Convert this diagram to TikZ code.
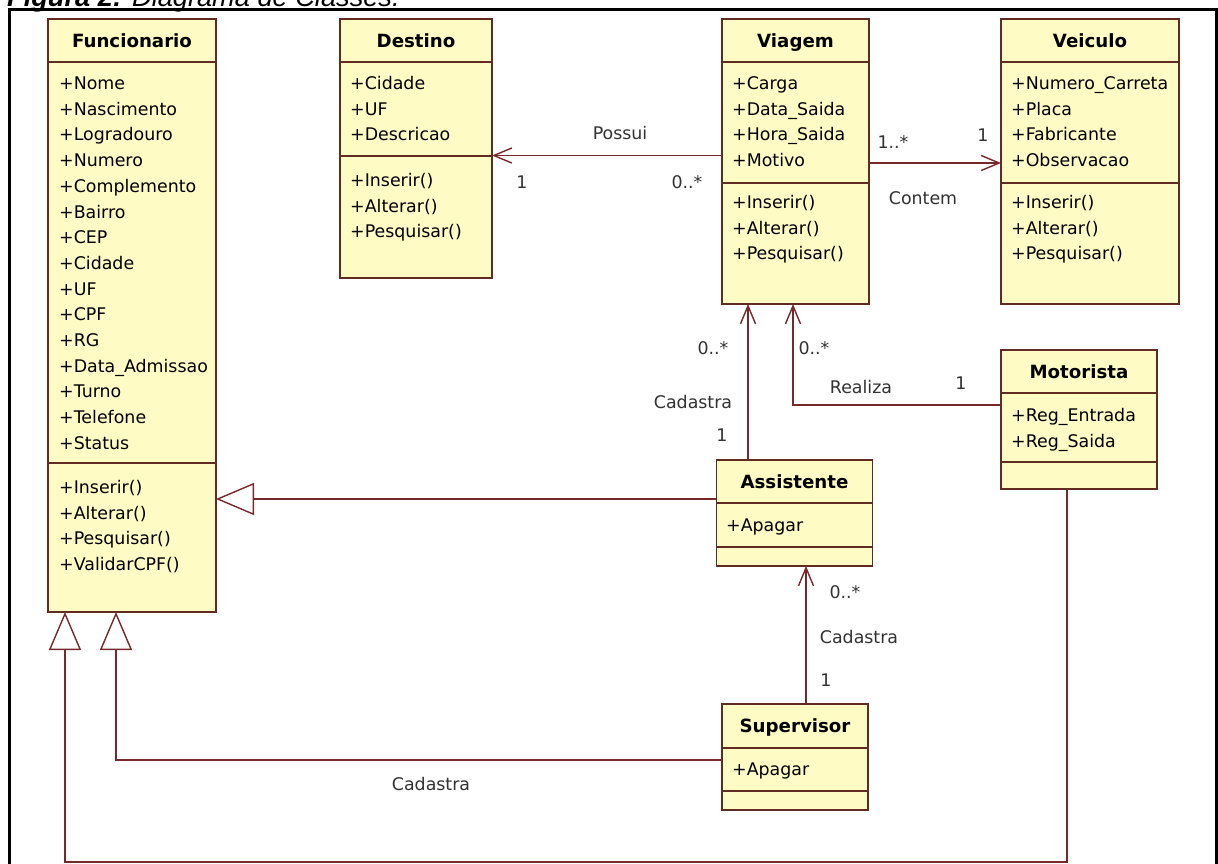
\documentclass[tikz,border=0pt]{standalone}
\usepackage{fontspec}
\setmainfont{DejaVu Sans}
\newfontfamily\capfont{Liberation Sans}
\usetikzlibrary{arrows.meta}
\definecolor{boxfill}{RGB}{255,251,196}
\definecolor{boxc}{RGB}{96,44,34}
\definecolor{linec}{RGB}{118,40,44}
\definecolor{lblc}{RGB}{50,50,50}
\newcommand\fsz{\fontsize{17.4}{20}\selectfont}
\newcommand\tsz{\fontsize{18.2}{21}\selectfont}
\tikzset{
  clsbox/.style={draw=boxc, fill=boxfill, line width=1.6pt, inner sep=0pt, outer sep=0pt},
  sepline/.style={draw=boxc, line width=1.6pt},
  ctitle/.style={font=\bfseries\tsz, anchor=base, inner sep=0pt, text=black},
  cattr/.style={font=\fsz, anchor=base west, inner sep=0pt, text=black},
  lbl/.style={font=\fsz, text=lblc, inner sep=0pt},
  assoc/.style={draw=linec, line width=1.4pt, -{Straight Barb[length=18pt,width=15pt]}},
  gen/.style={draw=linec, line width=1.4pt, -{Triangle[open,length=38pt,width=32pt]}},
}
% name, left, top, right, bottom, sep1, sep2, title
\newcommand\classbox[8]{%
  \node[clsbox, minimum width={#4-#2}, minimum height={#5-#3}, anchor=north west] (#1) at (#2,#3) {};
  \draw[sepline] (#2,#6) -- (#4,#6);
  \draw[sepline] (#2,#7) -- (#4,#7);
  \node[ctitle] (#1-title) at ({(#2+#4)/2},{(#3+#6)/2+6.6}) {#8};
}
% prefix, x, first baseline, list
\newcommand\members[4]{%
  \foreach \t [count=\i from 0] in {#4} {\node[cattr] (#1-\i) at (#2,{#3+25.7*\i}) {\t};}
}
\begin{document}
\begin{tikzpicture}[x=1pt,y=-1pt]
\useasboundingbox (0,0) rectangle (1218,864);
\clip (0,0) rectangle (1218,864);
\fill[white] (0,0) rectangle (1218,864);

% caption and frame
\node[anchor=base west, inner sep=0pt, font=\capfont\fontsize{27.2}{31}\selectfont] (cap) at (7,7)
  {\textbf{\textit{Figura 2:}} \textit{Diagrama de Classes.}};
\draw[line width=3.5pt] (9.5,9.5) rectangle (1216.5,890);

% classes
\classbox{func}{48}{19}{216}{612}{62}{463}{Funcionario}
\members{func-a}{59}{89.5}{+Nome,+Nascimento,+Logradouro,+Numero,+Complemento,+Bairro,+CEP,+Cidade,+UF,+CPF,+RG,+Data\_Admissao,+Turno,+Telefone,+Status}
\members{func-m}{59}{493.5}{+Inserir(),+Alterar(),+Pesquisar(),+ValidarCPF()}

\classbox{dest}{340}{19}{492}{278}{62}{156}{Destino}
\members{dest-a}{350}{89.5}{+Cidade,+UF,+Descricao}
\members{dest-m}{350}{186.5}{+Inserir(),+Alterar(),+Pesquisar()}

\classbox{via}{722}{19}{869}{304}{62}{183}{Viagem}
\members{via-a}{732}{89.5}{+Carga,+Data\_Saida,+Hora\_Saida,+Motivo}
\members{via-m}{732}{208.5}{+Inserir(),+Alterar(),+Pesquisar()}

\classbox{vei}{1001}{19}{1179}{304}{62}{183}{Veiculo}
\members{vei-a}{1011}{89.5}{+Numero\_Carreta,+Placa,+Fabricante,+Observacao}
\members{vei-m}{1011}{208.5}{+Inserir(),+Alterar(),+Pesquisar()}

\classbox{mot}{1001}{350}{1157}{489}{393}{462}{Motorista}
\members{mot-a}{1011}{421.5}{+Reg\_Entrada,+Reg\_Saida}

\classbox{asst}{716.5}{460}{872.5}{566}{503}{547}{Assistente}
\members{asst-a}{726}{531.5}{+Apagar}

\classbox{sup}{722}{704}{868}{810}{748}{791}{Supervisor}
\members{sup-a}{732}{775.5}{+Apagar}

% helper coordinates
\coordinate (yPossui) at (0,155.5);
\coordinate (yContem) at (0,163);
\coordinate (xAV) at (748,0);
\coordinate (xReal) at (793,0);
\coordinate (yReal) at (0,405);
\coordinate (yAF) at (0,499);
\coordinate (xSA) at (806,0);
\coordinate (ySF) at (0,760);
\coordinate (xSF) at (116,0);
\coordinate (xMF) at (1067,0);
\coordinate (yMF) at (0,862);
\coordinate (xMF2) at (65,0);

% associations
\draw[assoc] (via.west |- yPossui) -- (dest.east |- yPossui);
\draw[assoc] (via.east |- yContem) -- (vei.west |- yContem);
\draw[assoc] (asst.north -| xAV) -- (via.south -| xAV);
\draw[assoc] (mot.west |- yReal) -- (xReal |- yReal) -- (via.south -| xReal);
\draw[assoc] (sup.north -| xSA) -- (asst.south -| xSA);

% generalizations
\draw[gen] (asst.west |- yAF) -- (func.east |- yAF);
\draw[gen] (sup.west |- ySF) -- (xSF |- ySF) -- (func.south -| xSF);
\draw[gen] (mot.south -| xMF) -- (xMF |- yMF) -- (xMF2 |- yMF) -- (func.south -| xMF2);

% labels
\node[lbl] (lPossui) at (620,133) {Possui};
\node[lbl] (lP1) at (522,182) {1};
\node[lbl] (lPn) at (687,182) {0..*};
\node[lbl] (lContem) at (923,198) {Contem};
\node[lbl] (lCn) at (893,142) {1..*};
\node[lbl] (lC1) at (983,135) {1};
\node[lbl] (lCad1) at (693,402) {Cadastra};
\node[lbl] (lCad1n) at (713,348) {0..*};
\node[lbl] (lCad11) at (722,435) {1};
\node[lbl] (lReal) at (861,387) {Realiza};
\node[lbl] (lRealn) at (814,348) {0..*};
\node[lbl] (lReal1) at (961,383) {1};
\node[lbl] (lCad2) at (859,637) {Cadastra};
\node[lbl] (lCad2n) at (845,592) {0..*};
\node[lbl] (lCad21) at (826,680) {1};
\node[lbl] (lCad3) at (431,784) {Cadastra};
\end{tikzpicture}
\end{document}
